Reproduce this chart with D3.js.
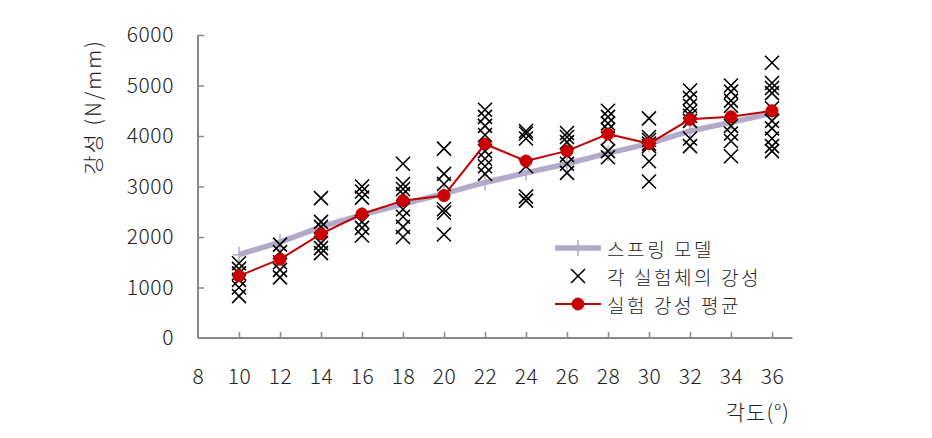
<!DOCTYPE html>
<html>
<head>
<meta charset="utf-8">
<script src="https://cdn.jsdelivr.net/npm/d3@7"></script>
<style>
  html, body { margin: 0; padding: 0; background: #fff; }
  svg { display: block; }
  text { font-family: "Noto Sans CJK KR", "Noto Sans", sans-serif; fill: #222; font-weight: 300; }
</style>
</head>
<body>
<svg id="chart" width="932" height="438"></svg>
<script>
// ---- data ----
const angles = [10, 12, 14, 16, 18, 20, 22, 24, 26, 28, 30, 32, 34, 36];
const springModel = [1650, 1900, 2200, 2440, 2650, 2860, 3080, 3270, 3450, 3660, 3850, 4100, 4270, 4450];
const meanStiffness = [1230, 1560, 2060, 2455, 2720, 2820, 3840, 3505, 3705, 4040, 3850, 4330, 4380, 4500];
const specimenStiffness = [
  [1480, 1370, 1280, 1150, 1000, 830],
  [1850, 1700, 1500, 1350, 1200],
  [2770, 2300, 2200, 1880, 1780, 1680],
  [3000, 2900, 2780, 2300, 2180, 2030],
  [3450, 3050, 2950, 2850, 2550, 2400, 2200, 2000],
  [3750, 3250, 3050, 2550, 2480, 2050],
  [4520, 4380, 4200, 4020, 3700, 3550, 3400, 3250],
  [4100, 4050, 3950, 3400, 2800, 2720],
  [4060, 3980, 3880, 3620, 3450, 3270],
  [4500, 4380, 4250, 4120, 3950, 3700, 3580],
  [4350, 3980, 3920, 3850, 3800, 3500, 3100],
  [4900, 4750, 4600, 4480, 4400, 4300, 3950, 3800],
  [5000, 4880, 4700, 4600, 4200, 4050, 3900, 3600],
  [5450, 5050, 4950, 4850, 4550, 4300, 4150, 3950, 3800, 3700]
];
const xTicks = [8, 10, 12, 14, 16, 18, 20, 22, 24, 26, 28, 30, 32, 34, 36];
const yTicks = [0, 1000, 2000, 3000, 4000, 5000, 6000];
const legendLabels = ["스프링 모델", "각 실험체의 강성", "실험 강성 평균"];
const yTitle = "강성 (N/mm)";
const xTitle = "각도(°)";

// ---- layout ----
const svg = d3.select("#chart");
const x = d3.scaleLinear().domain([8, 37]).range([198, 792.5]);
const y = d3.scaleLinear().domain([0, 6000]).range([338, 35]);

const springColor = "#b2aac8";
const redColor = "#c00000";
const axisColor = "#888888";
const fs = 21;

// axes
const yAxis = d3.axisLeft(y).tickValues(yTicks).tickSize(-6).tickPadding(24).tickFormat(d3.format("d"));
const xAxis = d3.axisBottom(x).tickValues(xTicks).tickSize(-6).tickPadding(31).tickFormat(d3.format("d"));

const gy = svg.append("g").attr("transform", "translate(198,0)").call(yAxis);
const gx = svg.append("g").attr("transform", "translate(0,338)").call(xAxis);
[gx, gy].forEach(g => {
  g.select(".domain").attr("stroke", axisColor).attr("stroke-width", 2);
  g.selectAll(".tick line").attr("stroke", axisColor).attr("stroke-width", 1.5);
  g.selectAll(".tick text").attr("font-size", fs).attr("fill", "#222")
    .attr("letter-spacing", 0.6)
    .style("font-family", "'Noto Sans CJK KR', sans-serif").style("font-weight", 300);
});
gy.select(".domain").attr("d", `M0,${y(6000)}V${y(0)}`);
gx.select(".domain").attr("d", `M${x(8)},0H${x(37)}`);
gx.selectAll(".tick").filter(d => d === 8).select("line").remove();
gy.selectAll(".tick").filter(d => d === 0).select("line").remove();

// axis titles
svg.append("text")
  .attr("transform", `translate(92,${107}) rotate(-90)`)
  .attr("text-anchor", "middle").attr("dominant-baseline", "central")
  .attr("font-size", fs).attr("letter-spacing", 2).attr("fill", "#444").text(yTitle);
svg.append("text")
  .attr("x", 790).attr("y", 411)
  .attr("text-anchor", "end").attr("dominant-baseline", "central")
  .attr("font-size", fs).attr("letter-spacing", 1).text(xTitle);

// spring model line
const line = d3.line().x(d => x(d[0])).y(d => y(d[1]));
const springPts = angles.map((a, i) => [a, springModel[i]]);
svg.append("path").datum(springPts).attr("d", line)
  .attr("fill", "none").attr("stroke", springColor).attr("stroke-width", 5.5);
svg.append("g").selectAll("path").data(springPts).join("path")
  .attr("d", d => `M${x(d[0])},${y(d[1]) - 8}V${y(d[1]) + 8}M${x(d[0]) - 6},${y(d[1])}H${x(d[0]) + 6}`)
  .attr("stroke", springColor).attr("stroke-width", 1.5);

// specimen crosses
const crossPath = (cx, cy, s) => `M${cx - s},${cy - s}L${cx + s},${cy + s}M${cx - s},${cy + s}L${cx + s},${cy - s}`;
const specPts = [];
angles.forEach((a, i) => specimenStiffness[i].forEach(v => specPts.push([a, v])));
svg.append("g").selectAll("path").data(specPts).join("path")
  .attr("d", d => crossPath(x(d[0]), y(d[1]), 7))
  .attr("stroke", "#000").attr("stroke-width", 1.6).attr("fill", "none");

// mean line
const meanPts = angles.map((a, i) => [a, meanStiffness[i]]);
svg.append("path").datum(meanPts).attr("d", line)
  .attr("fill", "none").attr("stroke", redColor).attr("stroke-width", 2);
svg.append("g").selectAll("circle").data(meanPts).join("circle")
  .attr("cx", d => x(d[0])).attr("cy", d => y(d[1])).attr("r", 6)
  .attr("fill", "#cc0000").attr("stroke", redColor).attr("stroke-width", 1);

// legend
const lg = svg.append("g");
const lx0 = 555, lx1 = 601, lmx = 578, ltx = 607;
const rows = [248, 276, 304];
lg.append("line").attr("x1", lx0).attr("x2", lx1).attr("y1", rows[0]).attr("y2", rows[0])
  .attr("stroke", springColor).attr("stroke-width", 5.5);
lg.append("path").attr("d", `M${lmx},${rows[0] - 8}V${rows[0] + 8}`)
  .attr("stroke", springColor).attr("stroke-width", 1.5);
lg.append("path").attr("d", crossPath(lmx, rows[1], 7))
  .attr("stroke", "#000").attr("stroke-width", 1.6);
lg.append("line").attr("x1", lx0).attr("x2", lx1).attr("y1", rows[2]).attr("y2", rows[2])
  .attr("stroke", redColor).attr("stroke-width", 2);
lg.append("circle").attr("cx", lmx).attr("cy", rows[2]).attr("r", 6)
  .attr("fill", "#cc0000").attr("stroke", redColor);
legendLabels.forEach((t, i) => {
  lg.append("text").attr("x", ltx).attr("y", rows[i])
    .attr("dominant-baseline", "central").attr("font-size", 19)
    .attr("letter-spacing", 2.6).attr("fill", "#222").text(t);
});
</script>
</body>
</html>
